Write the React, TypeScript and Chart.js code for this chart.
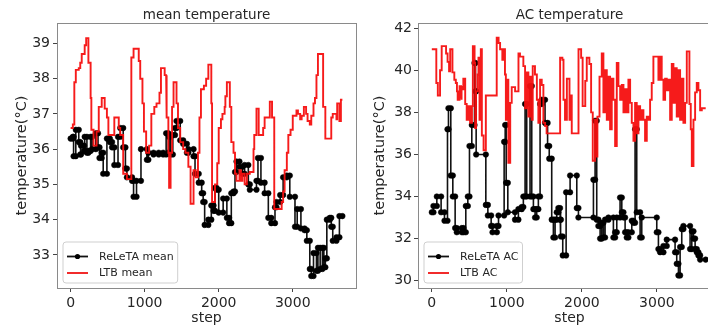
import React, { useEffect, useRef } from "react";
import { Chart, registerables } from "chart.js";

Chart.register(...registerables);

const FONT = "'DejaVu Sans', 'Liberation Sans', sans-serif";
const TEXT = "#262626";

// ---- axis ticks ----
const stepTicks = [0, 1000, 2000, 3000];
const meanTempTicks = [33, 34, 35, 36, 37, 38, 39];
const acTempTicks = [30, 32, 34, 36, 38, 40, 42];

// ---- mean temperature panel: change points (step) and levels (°C) ----
const reletaMeanSteps = [0, 30, 40, 70, 110, 130, 140, 180, 190, 220, 240, 270, 290, 340, 370, 390, 420, 440, 490, 530, 560, 590, 640, 670, 710, 740, 760, 830, 850, 890, 950, 1030, 1050, 1120, 1190, 1250, 1290, 1320, 1330, 1350, 1380, 1410, 1430, 1480, 1520, 1570, 1590, 1660, 1680, 1730, 1770, 1790, 1810, 1860, 1900, 1930, 1950, 1970, 2000, 2060, 2110, 2140, 2170, 2200, 2220, 2240, 2280, 2320, 2350, 2400, 2420, 2510, 2530, 2570, 2620, 2670, 2710, 2760, 2780, 2830, 2870, 2920, 2960, 3030, 3060, 3110, 3160, 3190, 3230, 3250, 3280, 3320, 3340, 3370, 3400, 3420, 3440, 3460, 3500, 3520, 3540, 3590, 3630];
const reletaMean = [36.3, 36.35, 35.8, 36.55, 36.2, 35.85, 36.1, 35.95, 36.35, 35.9, 35.95, 36.35, 36.0, 36.45, 36.05, 35.75, 35.9, 35.3, 36.3, 36.2, 36.05, 35.55, 36.35, 36.6, 36.05, 35.45, 35.2, 35.1, 34.65, 35.1, 36.0, 35.7, 35.9, 35.85, 35.9, 35.85, 36.45, 35.9, 36.35, 35.85, 36.4, 36.6, 36.8, 36.25, 36.15, 35.9, 36.0, 35.8, 35.3, 35.05, 34.75, 34.5, 33.85, 34.0, 34.4, 34.25, 34.9, 34.85, 34.2, 34.6, 34.05, 33.9, 34.75, 34.8, 35.35, 35.65, 35.5, 35.3, 35.55, 35.0, 34.85, 35.1, 35.75, 35.05, 34.75, 34.05, 33.9, 34.35, 34.5, 34.7, 35.2, 35.25, 34.65, 33.8, 34.3, 33.75, 33.7, 33.4, 32.6, 32.4, 33.05, 32.55, 33.2, 32.6, 33.2, 32.65, 32.9, 34.0, 34.05, 33.8, 33.4, 33.5, 34.1];
const ltbMeanSteps = [0, 30, 50, 70, 110, 130, 150, 190, 210, 240, 270, 280, 310, 350, 380, 420, 460, 490, 510, 590, 650, 670, 710, 760, 820, 850, 920, 940, 970, 990, 1020, 1060, 1090, 1130, 1160, 1200, 1220, 1270, 1290, 1300, 1320, 1330, 1350, 1370, 1390, 1430, 1450, 1480, 1520, 1550, 1590, 1620, 1660, 1690, 1720, 1740, 1760, 1800, 1830, 1860, 1900, 1910, 1950, 1980, 2000, 2030, 2050, 2080, 2090, 2110, 2150, 2170, 2200, 2220, 2240, 2280, 2300, 2320, 2350, 2380, 2420, 2470, 2480, 2510, 2540, 2600, 2620, 2690, 2720, 2750, 2850, 2870, 2890, 2920, 2940, 2970, 3000, 3050, 3070, 3100, 3120, 3150, 3180, 3200, 3230, 3250, 3280, 3300, 3320, 3340, 3410, 3440, 3520, 3540, 3590, 3600, 3630, 3650];
const ltbMean = [36.6, 36.7, 37.9, 38.25, 38.3, 38.45, 38.7, 38.95, 39.15, 38.45, 37.45, 36.55, 36.1, 36.5, 37.2, 37.45, 37.15, 36.9, 36.4, 36.9, 36.6, 36.4, 35.3, 35.15, 38.6, 38.85, 38.5, 38.0, 37.3, 36.5, 35.9, 36.1, 37.0, 37.2, 37.3, 37.6, 38.3, 38.1, 37.6, 36.9, 35.9, 34.9, 35.9, 37.2, 37.9, 37.3, 36.6, 36.2, 36.0, 35.9, 35.5, 34.45, 35.4, 35.2, 35.9, 36.9, 37.7, 37.8, 38.0, 38.4, 37.3, 34.5, 35.0, 35.6, 36.6, 36.85, 37.0, 37.2, 37.5, 37.9, 37.2, 36.2, 35.9, 35.3, 35.1, 35.4, 35.1, 35.3, 35.0, 35.3, 35.35, 36.0, 36.4, 37.15, 36.4, 36.6, 36.9, 37.35, 36.9, 34.3, 34.5, 34.8, 35.4, 35.9, 36.4, 36.55, 36.95, 37.1, 37.0, 36.85, 36.95, 37.2, 37.0, 36.8, 36.7, 36.95, 37.3, 37.45, 38.1, 38.7, 37.2, 36.3, 36.9, 37.0, 36.85, 37.3, 36.8, 37.4];
const meanLastStep = 3670;

// ---- AC temperature panel ----
const reletaAcSteps = [0, 22, 67, 124, 169, 209, 222, 253, 280, 311, 333, 400, 422, 453, 480, 502, 533, 569, 582, 591, 720, 747, 791, 809, 867, 889, 964, 978, 991, 1013, 1109, 1154, 1198, 1220, 1243, 1265, 1309, 1332, 1354, 1376, 1398, 1420, 1443, 1465, 1509, 1543, 1565, 1598, 1620, 1643, 1665, 1687, 1709, 1720, 1745, 1790, 1843, 1932, 1954, 2154, 2176, 2198, 2220, 2243, 2265, 2287, 2309, 2354, 2420, 2443, 2465, 2509, 2532, 2554, 2576, 2598, 2620, 2665, 2687, 2709, 2731, 2776, 2798, 2998, 3020, 3042, 3087, 3131, 3242, 3264, 3287, 3309, 3331, 3353, 3442, 3465, 3487, 3509, 3531, 3553, 3576];
const reletaAC = [33.25, 33.55, 34.0, 33.25, 32.85, 37.2, 38.2, 35.0, 34.0, 32.5, 32.3, 32.5, 32.3, 33.55, 34.0, 36.4, 37.4, 40.35, 39.0, 36.0, 33.6, 33.1, 32.6, 32.3, 32.6, 33.1, 36.6, 37.4, 34.65, 33.25, 32.9, 33.4, 33.5, 34.0, 38.4, 34.0, 39.25, 34.0, 33.4, 33.0, 33.4, 34.0, 38.4, 38.6, 37.5, 36.4, 35.8, 32.9, 32.05, 32.9, 33.25, 33.45, 32.9, 32.1, 31.2, 34.2, 35.0, 33.45, 33.0, 34.8, 37.6, 32.9, 32.6, 32.0, 32.75, 32.05, 32.9, 33.0, 32.05, 32.3, 33.0, 33.95, 33.25, 33.0, 32.3, 32.05, 32.3, 32.85, 32.75, 37.2, 33.25, 32.05, 33.0, 32.3, 31.5, 31.35, 31.65, 31.95, 31.35, 30.8, 30.25, 31.6, 32.45, 32.6, 31.5, 32.35, 32.0, 31.5, 31.35, 31.2, 31.0];
const ltbAcSteps = [0, 60, 80, 110, 125, 135, 190, 210, 230, 245, 275, 300, 320, 335, 345, 370, 390, 400, 420, 445, 465, 490, 510, 535, 547, 570, 578, 590, 610, 622, 636, 653, 667, 690, 720, 865, 890, 910, 940, 955, 975, 987, 1000, 1020, 1045, 1065, 1110, 1155, 1175, 1220, 1243, 1265, 1287, 1310, 1332, 1345, 1375, 1400, 1420, 1443, 1465, 1487, 1510, 1530, 1710, 1740, 1755, 1775, 1800, 1835, 1845, 1865, 1955, 1990, 2010, 2045, 2065, 2100, 2123, 2145, 2175, 2190, 2207, 2235, 2265, 2287, 2310, 2332, 2354, 2376, 2398, 2420, 2443, 2465, 2487, 2510, 2532, 2554, 2576, 2598, 2620, 2643, 2665, 2687, 2709, 2731, 2754, 2776, 2798, 2820, 2842, 2865, 2887, 2909, 2931, 2953, 3020, 3042, 3064, 3087, 3109, 3131, 3153, 3176, 3198, 3220, 3242, 3264, 3287, 3309, 3331, 3353, 3376, 3398, 3433, 3451, 3465, 3487, 3509, 3531, 3553, 3576, 3598];
const ltbAC = [41.0, 39.4, 38.8, 40.0, 40.8, 41.15, 40.8, 40.4, 39.95, 41.0, 39.9, 39.55, 39.4, 39.0, 38.6, 39.25, 38.6, 39.1, 39.6, 38.4, 37.65, 38.3, 37.5, 38.3, 41.15, 40.35, 37.25, 39.0, 39.8, 40.6, 37.65, 41.0, 36.9, 36.2, 38.8, 41.55, 41.3, 41.0, 40.5, 41.0, 39.8, 37.65, 39.55, 35.6, 38.45, 39.2, 39.0, 40.8, 40.65, 40.2, 38.2, 39.9, 37.8, 39.7, 37.65, 40.2, 39.8, 38.6, 37.5, 39.55, 39.3, 37.5, 37.35, 37.0, 40.6, 40.5, 38.6, 37.65, 39.6, 37.65, 38.8, 37.0, 41.0, 40.6, 38.3, 39.5, 40.6, 40.3, 38.0, 35.7, 37.65, 35.9, 37.8, 39.7, 40.8, 38.0, 40.0, 37.65, 39.7, 37.2, 39.6, 38.6, 36.4, 40.35, 39.25, 38.6, 39.3, 38.0, 39.1, 38.0, 39.55, 38.45, 37.5, 36.65, 38.45, 37.0, 38.3, 37.65, 38.1, 37.65, 36.65, 37.8, 37.65, 38.6, 39.4, 40.65, 39.55, 40.65, 39.55, 38.6, 39.6, 39.05, 39.55, 37.65, 40.3, 38.45, 40.1, 37.8, 40.0, 37.65, 39.6, 37.5, 38.45, 40.9, 38.4, 37.2, 35.45, 37.65, 38.95, 39.4, 39.05, 38.1, 38.2];
const acLastStep = 3650;

// Build a piecewise-constant line: one point at each end of every vertical jump.
function stepPoints(steps: number[], values: number[], last: number) {
  const n = Math.min(steps.length, values.length);
  const pts: { x: number; y: number }[] = [];
  for (let i = 0; i < n; i++) {
    if (i > 0) pts.push({ x: steps[i], y: values[i - 1] });
    pts.push({ x: steps[i], y: values[i] });
  }
  pts.push({ x: last, y: values[n - 1] });
  return pts;
}

type PanelSpec = {
  title: string;
  blackLabel: string;
  redLabel: string;
  blackSteps: number[];
  blackValues: number[];
  redSteps: number[];
  redValues: number[];
  last: number;
  yTicks: number[];
  yMin: number;
  yMax: number;
  yAxisWidth: number;
  yTitlePad: number;
  yTickPad: number;
  padRight: number;
};

const decorPlugin = {
  id: "decor",
  afterDraw(chart: any, _args: any, opts: any) {
    const { ctx, chartArea: a } = chart;
    ctx.save();
    // frame
    ctx.strokeStyle = "#8a8a8a";
    ctx.lineWidth = 1;
    ctx.strokeRect(Math.round(a.left) + 0.5, Math.round(a.top) + 0.5, Math.round(a.right - a.left), Math.round(a.bottom - a.top));
    // title
    ctx.fillStyle = TEXT;
    ctx.font = `13.5px ${FONT}`;
    ctx.textAlign = "center";
    ctx.textBaseline = "middle";
    ctx.fillText(opts.title, (a.left + a.right) / 2, 15);
    // legend
    ctx.font = `11px ${FONT}`;
    const labels: string[] = opts.labels;
    const tw = Math.max(...labels.map((l) => ctx.measureText(l).width));
    const bx = a.left + 6;
    const by = a.bottom - 46;
    const bw = 4 + 21 + 11 + tw + 4;
    const bh = 41;
    ctx.beginPath();
    const r = 3;
    ctx.moveTo(bx + r, by);
    ctx.lineTo(bx + bw - r, by);
    ctx.quadraticCurveTo(bx + bw, by, bx + bw, by + r);
    ctx.lineTo(bx + bw, by + bh - r);
    ctx.quadraticCurveTo(bx + bw, by + bh, bx + bw - r, by + bh);
    ctx.lineTo(bx + r, by + bh);
    ctx.quadraticCurveTo(bx, by + bh, bx, by + bh - r);
    ctx.lineTo(bx, by + r);
    ctx.quadraticCurveTo(bx, by, bx + r, by);
    ctx.closePath();
    ctx.fillStyle = "rgba(255,255,255,0.85)";
    ctx.fill();
    ctx.strokeStyle = "#cfcfcf";
    ctx.stroke();
    const rows = [by + 14.5, by + 31];
    const colors = ["#111111", "#f01414"];
    rows.forEach((y, i) => {
      ctx.strokeStyle = colors[i];
      ctx.lineWidth = 1.8;
      ctx.beginPath();
      ctx.moveTo(bx + 4, y);
      ctx.lineTo(bx + 25, y);
      ctx.stroke();
      if (i === 0) {
        ctx.fillStyle = "#000";
        ctx.beginPath();
        ctx.arc(bx + 14.5, y, 2.6, 0, Math.PI * 2);
        ctx.fill();
      }
      ctx.fillStyle = TEXT;
      ctx.textAlign = "left";
      ctx.textBaseline = "middle";
      ctx.fillText(labels[i], bx + 36, y + 0.5);
    });
    ctx.restore();
  },
};

function Panel({ spec, left, width }: { spec: PanelSpec; left: number; width: number }) {
  const ref = useRef<HTMLCanvasElement>(null);
  useEffect(() => {
    const tickFont = { family: FONT, size: 14 };
    const chart = new Chart(ref.current as HTMLCanvasElement, {
      type: "line",
      data: {
        datasets: [
          {
            label: spec.blackLabel,
            data: stepPoints(spec.blackSteps, spec.blackValues, spec.last),
            borderColor: "#111111",
            borderWidth: 1.6,
            pointRadius: 2.8,
            pointBackgroundColor: "#000",
            pointBorderColor: "#000",
            pointBorderWidth: 0.5,
            tension: 0,
            order: 1,
          },
          {
            label: spec.redLabel,
            data: stepPoints(spec.redSteps, spec.redValues, spec.last),
            borderColor: "rgba(245,15,15,0.95)",
            borderWidth: 1.9,
            pointRadius: 0,
            tension: 0,
            order: 0,
          },
        ],
      } as any,
      options: {
        animation: false,
        responsive: false,
        maintainAspectRatio: false,
        events: [],
        layout: { padding: { left: 0, right: spec.padRight, top: 23, bottom: 0 } },
        plugins: {
          legend: { display: false },
          tooltip: { enabled: false },
          title: { display: false },
          decor: { title: spec.title, labels: [spec.blackLabel, spec.redLabel] },
        } as any,
        scales: {
          x: {
            type: "linear",
            min: -184,
            max: 3854,
            afterFit: (s: any) => {
              s.height = 40;
            },
            afterBuildTicks: (s: any) => {
              s.ticks = stepTicks.map((v) => ({ value: v }));
            },
            ticks: {
              font: tickFont,
              color: TEXT,
              padding: 3,
              maxRotation: 0,
              autoSkip: false,
              callback: (v: any) => String(v),
            },
            grid: { display: true, drawOnChartArea: false, drawTicks: true, tickLength: 4, color: "#444" },
            border: { display: false },
            title: { display: true, text: "step", font: tickFont, color: TEXT, padding: { top: 0, bottom: 1 } },
          },
          y: {
            type: "linear",
            min: spec.yMin,
            max: spec.yMax,
            afterFit: (s: any) => {
              s.width = spec.yAxisWidth;
            },
            afterBuildTicks: (s: any) => {
              s.ticks = spec.yTicks.map((v) => ({ value: v }));
            },
            ticks: {
              font: tickFont,
              color: TEXT,
              padding: spec.yTickPad,
              autoSkip: false,
              callback: (v: any) => String(v),
            },
            grid: { display: true, drawOnChartArea: false, drawTicks: true, tickLength: 4, color: "#444" },
            border: { display: false },
            title: {
              display: true,
              text: "temperature(°C)",
              font: { family: FONT, size: 14.5 },
              color: TEXT,
              padding: { top: spec.yTitlePad, bottom: 0 },
            },
          },
        },
      } as any,
      plugins: [decorPlugin as any],
    });
    return () => chart.destroy();
  }, [spec]);
  return (
    <canvas
      ref={ref}
      width={width}
      height={328}
      style={{ position: "absolute", left, top: 0, width, height: 328 }}
    />
  );
}

const meanSpec: PanelSpec = {
  title: "mean temperature",
  blackLabel: "ReLeTA mean",
  redLabel: "LTB mean",
  blackSteps: reletaMeanSteps,
  blackValues: reletaMean,
  redSteps: ltbMeanSteps,
  redValues: ltbMean,
  last: meanLastStep,
  yTicks: meanTempTicks,
  yMin: 32.06,
  yMax: 39.58,
  yAxisWidth: 57,
  yTitlePad: 13.3,
  yTickPad: 3,
  padRight: 6,
};

const acSpec: PanelSpec = {
  title: "AC temperature",
  blackLabel: "ReLeTA AC",
  redLabel: "LTB AC",
  blackSteps: reletaAcSteps,
  blackValues: reletaAC,
  redSteps: ltbAcSteps,
  redValues: ltbAC,
  last: acLastStep,
  yTicks: acTempTicks,
  yMin: 29.65,
  yMax: 42.25,
  yAxisWidth: 58,
  yTitlePad: 11.6,
  yTickPad: 2,
  padRight: 14,
};

export default function App() {
  return (
    <div
      style={{
        position: "fixed",
        left: 0,
        top: 0,
        width: 708,
        height: 328,
        overflow: "hidden",
        background: "#fff",
      }}
    >
      <Panel spec={meanSpec} left={0} width={362} />
      <Panel spec={acSpec} left={360} width={375} />
    </div>
  );
}
